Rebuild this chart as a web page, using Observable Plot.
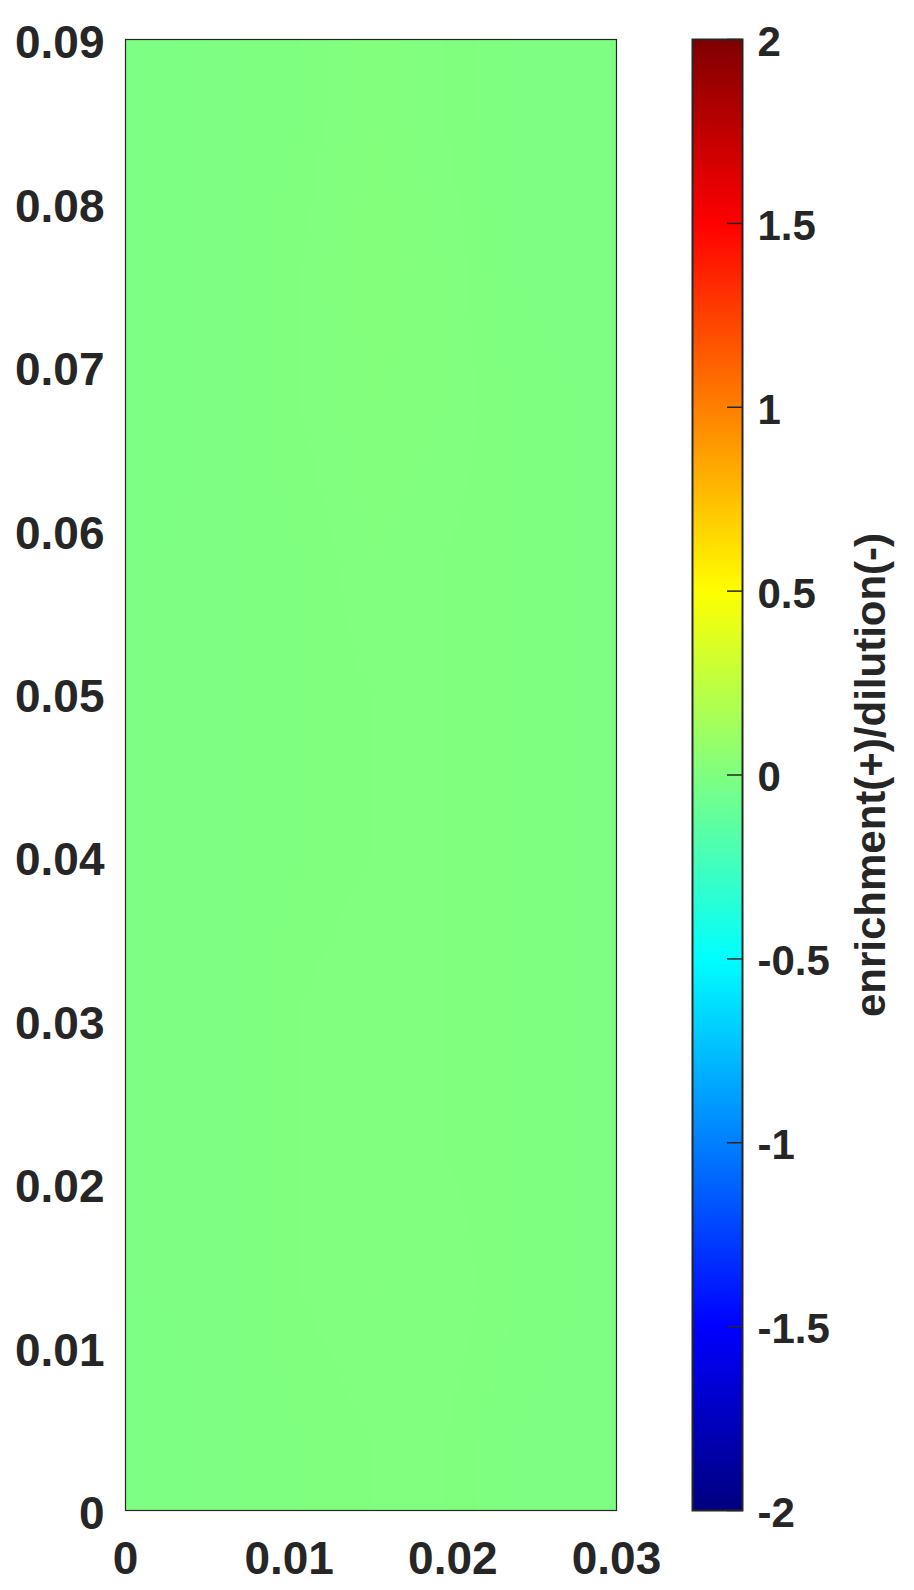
<!DOCTYPE html>
<html>
<head>
<meta charset="utf-8">
<script src="https://cdn.jsdelivr.net/npm/d3@7"></script>
<script src="https://cdn.jsdelivr.net/npm/@observablehq/plot@0.6"></script>
<style>
  html, body { margin: 0; padding: 0; background: #fff; }
  #wrap { position: relative; width: 914px; height: 1590px; }
  #wrap svg { position: absolute; left: 0; top: 0; }
</style>
</head>
<body>
<div id="wrap"></div>
<script>
// ---- data ----
const xDomain = [0, 0.03];
const yDomain = [0, 0.09];
const xTicks = [0, 0.01, 0.02, 0.03];
const yTicks = [0, 0.01, 0.02, 0.03, 0.04, 0.05, 0.06, 0.07, 0.08, 0.09];
const cbDomain = [-2, 2];
const cbTicks = [-2, -1.5, -1, -0.5, 0, 0.5, 1, 1.5, 2];
const cbLabel = "enrichment(+)/dilution(-)";
// field grid: 7 columns (x 0 -> 0.03), 10 rows (top y=0.09 -> bottom y=0)
const nx = 7, ny = 10;
const fieldValues = [
  -0.010, -0.004,  0.000,  0.012,  0.004, -0.002, -0.006,
  -0.010, -0.004,  0.002,  0.014,  0.006, -0.002, -0.006,
  -0.010, -0.004,  0.002,  0.010,  0.006,  0.000, -0.004,
  -0.008, -0.003,  0.000,  0.006,  0.004,  0.000, -0.004,
  -0.008, -0.002,  0.000,  0.004,  0.004,  0.000, -0.004,
  -0.008, -0.002,  0.000,  0.004,  0.004,  0.000, -0.004,
  -0.008, -0.002,  0.002,  0.006,  0.004,  0.000, -0.004,
  -0.008, -0.002,  0.002,  0.006,  0.004,  0.000, -0.004,
  -0.008, -0.002,  0.002,  0.006,  0.006,  0.000, -0.004,
  -0.010, -0.004,  0.000,  0.004,  0.004, -0.002, -0.006
];

// ---- styles ----
const ink = "#262626";
const fontFamily = "'Liberation Sans', Arial, Helvetica, sans-serif";
const jet = {
  type: "linear",
  domain: [-2, -1.5, -0.5, 0, 0.5, 1.5, 2],
  range: ["#000080", "#0000ff", "#00ffff", "#80ff80", "#ffff00", "#ff0000", "#800000"],
  interpolate: "rgb",
  clamp: true
};
const fmt = d => String(+(+d).toFixed(2));
const W = 914, H = 1590;
const frameTop = 39, frameBottom = 80;

const main = Plot.plot({
  width: W, height: H,
  marginLeft: 125, marginRight: W - 616, marginTop: frameTop, marginBottom: frameBottom,
  style: { fontFamily, fontWeight: "bold", fontSize: "46px", color: ink, background: "transparent" },
  x: { domain: xDomain, label: null },
  y: { domain: yDomain, label: null },
  color: jet,
  marks: [
    Plot.raster(fieldValues, { width: nx, height: ny, x1: xDomain[0], x2: xDomain[1], y1: yDomain[1], y2: yDomain[0], fill: d => d }),
    Plot.frame({ stroke: ink, strokeWidth: 1.2 }),
    Plot.axisX(xTicks, { tickSize: 0, tickPadding: 31, tickFormat: fmt, fill: ink, label: null }),
    Plot.axisY(yTicks, { tickSize: 0, tickPadding: 21, dy: 4, tickFormat: fmt, fill: ink, label: null })
  ]
});

const bar = Plot.plot({
  width: W, height: H,
  marginLeft: 692, marginRight: W - 742, marginTop: frameTop, marginBottom: frameBottom,
  style: { fontFamily, fontWeight: "bold", fontSize: "42px", color: ink, background: "transparent" },
  x: { domain: [0, 1], axis: null },
  y: { domain: cbDomain, label: null, axis: null },
  color: jet,
  marks: [
    Plot.raster({ fill: (x, y) => y, x1: 0, x2: 1, y1: cbDomain[0], y2: cbDomain[1], pixelSize: 1 }),
    Plot.tickY(cbTicks, { y: d => d, insetLeft: 35, stroke: ink, strokeWidth: 1.5 }),
    Plot.frame({ stroke: ink, strokeWidth: 2 }),
    Plot.axisY(cbTicks, { anchor: "right", tickSize: 0, tickPadding: 15, dy: 3, tickFormat: fmt, fill: ink, label: null }),
    Plot.text([cbLabel], { text: d => d, frameAnchor: "right", dx: 129, rotate: -90, fontSize: 42, fontWeight: "bold", fill: ink, textAnchor: "middle", lineAnchor: "middle" })
  ]
});

const wrap = document.getElementById("wrap");
wrap.appendChild(main);
wrap.appendChild(bar);
</script>
</body>
</html>
